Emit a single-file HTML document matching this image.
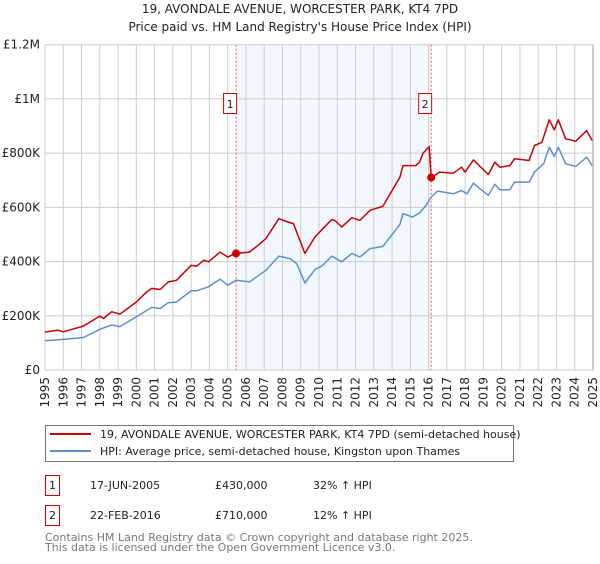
<!DOCTYPE html>
<html><head><meta charset="utf-8"><style>
html,body{margin:0;padding:0;background:#fff;}
body{width:600px;height:560px;overflow:hidden;font-family:"DejaVu Sans","Liberation Sans",sans-serif;}
</style></head><body>
<svg id="chart" width="600" height="560" xmlns="http://www.w3.org/2000/svg" font-family="DejaVu Sans, Liberation Sans, sans-serif">
<text x="300" y="13" text-anchor="middle" font-size="12" fill="#222">19, AVONDALE AVENUE, WORCESTER PARK, KT4 7PD</text>
<text x="300" y="31" text-anchor="middle" font-size="12" fill="#222">Price paid vs. HM Land Registry's House Price Index (HPI)</text>
<g id="grid"></g><g id="marks"></g><g id="axes"></g>
<g>
<rect x="45.5" y="425.5" width="468" height="36" fill="#fff" stroke="#777"/>
<line x1="50" y1="434" x2="91" y2="434" stroke="#cc0000" stroke-width="2"/>
<text x="100" y="438" font-size="11" fill="#222">19, AVONDALE AVENUE, WORCESTER PARK, KT4 7PD (semi-detached house)</text>
<line x1="50" y1="451" x2="91" y2="451" stroke="#5b8fd0" stroke-width="2"/>
<text x="100" y="455" font-size="11" fill="#222">HPI: Average price, semi-detached house, Kingston upon Thames</text>
</g>
<g font-size="11" fill="#222">
<rect x="45.5" y="475.5" width="14" height="20" fill="#fff" stroke="#cc0000"/>
<text x="52.5" y="489" text-anchor="middle">1</text>
<text x="90" y="489">17-JUN-2005</text>
<text x="215" y="489">£430,000</text>
<text x="313" y="489">32% ↑ HPI</text>
<rect x="45.5" y="505.5" width="14" height="20" fill="#fff" stroke="#cc0000"/>
<text x="52.5" y="519" text-anchor="middle">2</text>
<text x="90" y="519">22-FEB-2016</text>
<text x="215" y="519">£710,000</text>
<text x="313" y="519">12% ↑ HPI</text>
</g>
<text x="45" y="541" font-size="11" fill="#777">Contains HM Land Registry data © Crown copyright and database right 2025.</text>
<text x="45" y="551" font-size="11" fill="#777">This data is licensed under the Open Government Licence v3.0.</text>
</svg>
<script>
const yTicks=[0,200,400,600,800,1000,1200];
const yTickLabels=["£0","£200K","£400K","£600K","£800K","£1M","£1.2M"];
const xTicks=[1995,1996,1997,1998,1999,2000,2001,2002,2003,2004,2005,2006,2007,2008,2009,2010,2011,2012,2013,2014,2015,2016,2017,2018,2019,2020,2021,2022,2023,2024,2025];
const saleYears=[2005.46,2016.14];
const saleValues=[430,710];
const saleLabels=["1","2"];
const propYears=[1995.0,1995.1,1995.7,1996.0,1997.1,1998.0,1998.2,1998.65,1999.1,2000.0,2000.57,2000.84,2001.3,2001.75,2002.2,2003.0,2003.3,2003.7,2003.95,2004.58,2005.0,2005.46,2006.2,2006.77,2007.1,2007.8,2008.3,2008.6,2009.23,2009.78,2010.2,2010.7,2010.9,2011.24,2011.8,2012.24,2012.8,2013.5,2014.43,2014.6,2015.3,2015.5,2015.7,2016.03,2016.14,2016.6,2017.35,2017.8,2018.0,2018.45,2019.27,2019.63,2019.9,2020.45,2020.7,2021.5,2021.8,2022.2,2022.6,2022.88,2023.1,2023.5,2024.06,2024.65,2024.95];
const propValues=[140,141,147,141,162,199,190,215,206,251,288,301,297,325,331,386,383,405,399,435,417,430,435,466,485,558,546,540,430,491,521,555,550,527,562,552,589,604,711,754,754,767,800,824,710,730,726,748,730,775,721,767,748,754,779,773,828,840,923,886,923,853,844,883,847];
const hpiYears=[1995.0,1996.0,1997.1,1998.0,1998.65,1999.1,2000.0,2000.84,2001.3,2001.75,2002.2,2003.0,2003.3,2003.95,2004.58,2005.0,2005.46,2006.2,2007.1,2007.8,2008.4,2008.78,2009.23,2009.78,2010.2,2010.7,2011.24,2011.8,2012.24,2012.8,2013.5,2014.43,2014.6,2015.1,2015.5,2015.85,2016.14,2016.5,2017.35,2017.8,2018.1,2018.45,2019.27,2019.63,2019.9,2020.45,2020.7,2021.5,2021.8,2022.3,2022.6,2022.88,2023.1,2023.5,2024.06,2024.65,2024.95];
const hpiValues=[108,113,120,150,166,160,196,231,227,248,251,292,292,307,335,313,331,325,368,420,411,393,321,371,386,420,399,430,417,448,456,537,577,564,579,607,638,660,650,662,650,689,644,685,665,665,693,693,730,761,822,788,822,761,751,785,754];
const L=45,R=593,T=44.7,B=370,NS="http://www.w3.org/2000/svg";
function xs(v){return L+(v-1995)/30*(R-L);}
function ys(v){return B-v/1200*(B-T);}
function mk(tag,attrs,parent){const e=document.createElementNS(NS,tag);for(const k in attrs)e.setAttribute(k,attrs[k]);parent.appendChild(e);return e;}
const grid=document.getElementById('grid'),marks=document.getElementById('marks'),axes=document.getElementById('axes');
const shade=mk('rect',{x:xs(saleYears[0]),y:T,width:xs(saleYears[1])-xs(saleYears[0]),height:B-T,fill:'#eef3fd',opacity:'0.7'},grid);


xTicks.forEach(t=>{
 const l=mk('line',{x1:xs(t),x2:xs(t),y1:T,y2:B,stroke:'#cccccc','stroke-width':1},grid);
 
 
 const x=xs(t)+4,y=B+7;
 const tx=mk('text',{x:x,y:y,transform:'rotate(-90 '+x+' '+y+')','text-anchor':'end','font-size':'12',fill:'#222'},axes);
 tx.textContent=String(t);
 
 
});
yTicks.forEach((t,i)=>{
 const l=mk('line',{x1:L,x2:R,y1:ys(t),y2:ys(t),stroke:'#cccccc','stroke-width':1},grid);
 
 
 const tx=mk('text',{x:40,y:ys(t)+4,'text-anchor':'end','font-size':'12',fill:'#222'},axes);
 tx.textContent=yTickLabels[i];
 
 
});
const rb=mk('line',{x1:R,x2:R,y1:T,y2:B,stroke:'#999','stroke-width':1},grid);


saleYears.forEach((s,i)=>{
 const l=mk('line',{x1:xs(s),x2:xs(s),y1:T,y2:B,stroke:'#ee5555','stroke-width':1,'stroke-dasharray':'2,2'},marks);
 
 
});
function path(xsArr,vals,color,name){
 let d='';xsArr.forEach((x,i)=>{d+=(i?'L':'M')+xs(x).toFixed(1)+','+ys(vals[i]).toFixed(1);});
 const p=mk('path',{d:d,fill:'none',stroke:color,'stroke-width':1.5,'stroke-linejoin':'round'},marks);
 
 
}
path(hpiYears,hpiValues,'#5b8fd0','hpi-line');
path(propYears,propValues,'#cc0000','property-price-line');
saleYears.forEach((s,i)=>{
 const c=mk('circle',{cx:xs(s),cy:ys(saleValues[i]),r:4,fill:'#cc0000'},marks);
 
 
 const bx=xs(s)-13,by=93;
 const r=mk('rect',{x:bx+0.5,y:by+0.5,width:13,height:20,fill:'#fff',stroke:'#cc0000'},marks);
 
 
 const t=mk('text',{x:bx+7,y:by+15,'text-anchor':'middle','font-size':'11',fill:'#222'},marks);
 t.textContent=saleLabels[i];
 
 
});
</script>
</body></html>
